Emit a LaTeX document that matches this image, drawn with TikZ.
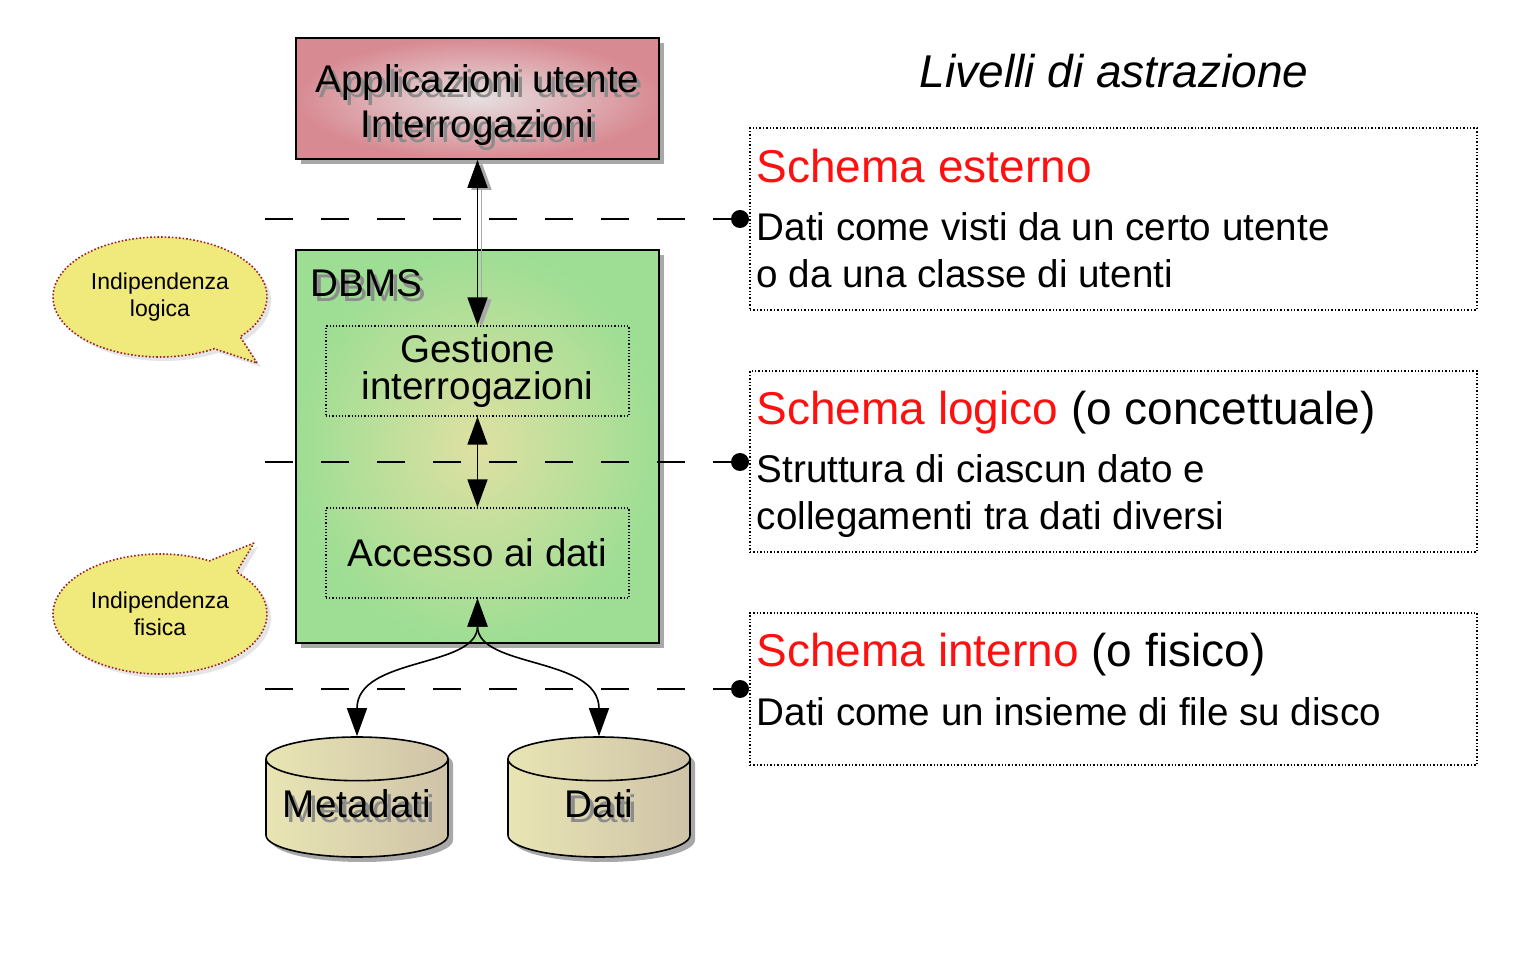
\documentclass[tikz,border=0pt]{standalone}
\usepackage{fontspec}
\setmainfont{Liberation Sans}
\usetikzlibrary{calc, shapes.geometric, shapes.callouts, shadows, arrows.meta}
\usepackage{xcolor}
\definecolor{AppCol}{HTML}{D88A92}
\definecolor{AppColInner}{HTML}{E6DFE0}
\definecolor{DbmsCol}{HTML}{9EDE94}
\definecolor{DbmsColInner}{HTML}{DFE0A2}
\definecolor{DiskCol}{HTML}{CFC3A8}
\definecolor{DiskColTop}{HTML}{E8E5B4}
\definecolor{NoteCol}{HTML}{F0E97C}
\definecolor{NoteColBorder}{HTML}{9A2030}
\definecolor{SchemaCol}{HTML}{FF1010}
\definecolor{ShadowCol}{HTML}{A8A8A8}
\definecolor{TextShadowCol}{HTML}{8C8C8C}

\newcommand{\shadowtext}[1]{\leavevmode\rlap{\kern 2pt\raisebox{-2.5pt}[0pt][0pt]{\textcolor{TextShadowCol}{#1}}}#1}

\begin{document}
\begin{tikzpicture}[x = 0.5pt, y = -0.5pt,
		big/.style = {font = \fontsize{19.3}{22.5}\selectfont},
		head/.style = {font = \fontsize{23}{27}\selectfont},
		small/.style = {font = \fontsize{11.5}{13.5}\selectfont},
		boxshadow/.style = {drop shadow = {shadow xshift = 2.5pt, shadow yshift = -2.5pt, fill = ShadowCol, opacity = 1}},
		appbox/.style = {draw, line width = 0.8pt, inner color = AppColInner, outer color = AppCol, boxshadow, minimum width = 181.5pt, minimum height = 60.5pt, align = center, big},
		dbmsbox/.style = {draw, line width = 0.8pt, inner color = DbmsColInner, outer color = DbmsCol, boxshadow, minimum width = 181.5pt, minimum height = 196.5pt},
		inner/.style = {draw, densely dotted, line width = 0.6pt, minimum width = 151.5pt, minimum height = 45pt, align = center, big},
		disk/.style = {cylinder, shape border rotate = 90, aspect = 0.24, draw, line width = 0.8pt, left color = DiskColTop, right color = DiskCol, text width = 75pt, inner xsep = 8pt, minimum height = 60pt, anchor = shape center, boxshadow},
		note/.style = {ellipse callout, draw = NoteColBorder, densely dotted, line width = 0.8pt, fill = NoteCol, minimum width = 107pt, minimum height = 60pt, inner sep = 0pt, callout pointer arc = 18, align = center, small, drop shadow = {shadow xshift = 2pt, shadow yshift = -2pt, fill = black!20}},
		level/.style = {draw, densely dotted, line width = 0.7pt, minimum width = 363.5pt},
		line/.style = {anchor = base west, inner sep = 0pt},
		arr/.style = {line width = 0.8pt, {Triangle[length = 14pt, width = 10pt]}-{Triangle[length = 14pt, width = 10pt]}},
		sep/.style = {line width = 0.7pt, dash pattern = on 14pt off 14pt},
	]
	\useasboundingbox (0, 0) rectangle (1538, 978);

	\node[appbox] (app) at (477.5, 98.5) {\rule{0pt}{21pt}\shadowtext{Applicazioni utente}\\\shadowtext{Interrogazioni}};
	\node[dbmsbox] (dbms) at (477.5, 446.5) {};
	\node[big, line] (dbmsLabel) at ($(dbms.north west) + (15, 47)$) {\shadowtext{DBMS}};
	\node[inner, font = \fontsize{19.3}{18.5}\selectfont] (gest) at (477.5, 371) {Gestione\\interrogazioni};
	\node[inner] (acc) at (477.5, 553) {Accesso ai dati};
	\node[disk] (meta) at (357, 797) {};
	\node[disk] (dati) at (599, 797) {};
	\node[big, anchor = base] (metaLabel) at ($(meta.shape center) + (0, 20)$) {\shadowtext{Metadati}};
	\node[big, anchor = base] (datiLabel) at ($(dati.shape center) + (0, 20)$) {\shadowtext{Dati}};

	\node[note, callout absolute pointer = {(257, 363)}] (indLog) at (160, 297) {Indipendenza\\logica};
	\node[note, callout absolute pointer = {(254, 543)}] (indFis) at (160, 614) {Indipendenza\\fisica};

	\foreach \y [count = \i] in {219, 462, 689} {
			\coordinate (start\i) at (265, \y);
			\coordinate (end\i) at (740, \y);
			\draw[sep] (start\i) -- (end\i);
			\fill (end\i) circle (4.5pt);
		}

	\draw[arr, ShadowCol, transform canvas = {shift = {(2pt, -1pt)}}] (app) -- (gest);
	\draw[arr] (app) -- (gest);
	\draw[arr] (gest) -- (acc);
	\draw[arr] (acc.south) .. controls +(0, 70) and +(0, -80) .. (meta.north);
	\draw[arr] (acc.south) .. controls +(0, 70) and +(0, -80) .. (dati.north);

	\node[head, anchor = base] (title) at (1114, 88) {\itshape Livelli di astrazione};

	\node[level, minimum height = 91pt] (ext) at (1113.5, 219) {};
	\node[head, line] (extHead) at ($(ext.north west) + (7, 55)$) {\color{SchemaCol}Schema esterno};
	\node[big, line] (extA) at ($(ext.north west) + (7, 113)$) {Dati come visti da un certo utente};
	\node[big, line] (extB) at ($(ext.north west) + (7, 160)$) {o da una classe di utenti};

	\node[level, minimum height = 90.5pt] (log) at (1113.5, 461.5) {};
	\node[head, line] (logHead) at ($(log.north west) + (7, 54)$) {{\color{SchemaCol}Schema logico} (o concettuale)};
	\node[big, line] (logA) at ($(log.north west) + (7, 112)$) {Struttura di ciascun dato e};
	\node[big, line] (logB) at ($(log.north west) + (7, 159)$) {collegamenti tra dati diversi};

	\node[level, minimum height = 76pt] (int) at (1113.5, 689) {};
	\node[head, line] (intHead) at ($(int.north west) + (7, 54)$) {{\color{SchemaCol}Schema interno} (o fisico)};
	\node[big, line] (intA) at ($(int.north west) + (7, 113)$) {Dati come un insieme di file su disco};
\end{tikzpicture}
\end{document}
